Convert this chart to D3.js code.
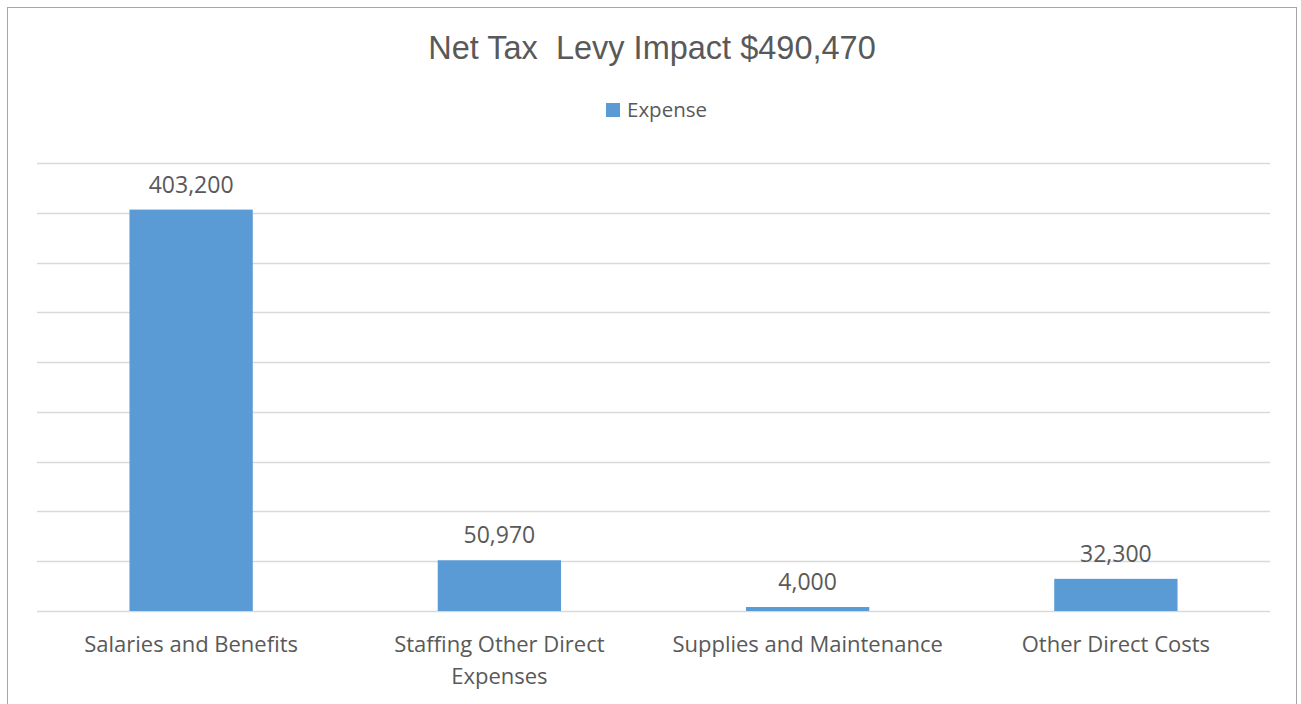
<!DOCTYPE html>
<html>
<head>
<meta charset="utf-8">
<script src="https://cdn.jsdelivr.net/npm/d3@7"></script>
<style>
  body { margin: 0; background: #fff; }
  text { font-family: "Open Sans", "Noto Sans", sans-serif; fill: #595959; }
</style>
</head>
<body>
<svg id="chart" width="1301" height="704"></svg>
<script>
// data
const categories = [
  ["Salaries and Benefits"],
  ["Staffing Other Direct", "Expenses"],
  ["Supplies and Maintenance"],
  ["Other Direct Costs"]
];
const expense = [403200, 50970, 4000, 32300];
const yTicks = [0, 50000, 100000, 150000, 200000, 250000, 300000, 350000, 400000, 450000];

const svg = d3.select("#chart");

// outer frame
svg.append("rect")
  .attr("x", 7.5).attr("y", 7.5)
  .attr("width", 1289).attr("height", 720)
  .attr("fill", "#fff")
  .attr("stroke", "#a6a6a6");

const margin = { left: 37, right: 31, top: 163, bottom: 93 };
const width = 1301 - margin.left - margin.right;
const height = 704 - margin.top - margin.bottom;

const x = d3.scaleBand()
  .domain(d3.range(categories.length))
  .range([margin.left, margin.left + width])
  .paddingInner(0.6)
  .paddingOuter(0.3);

const y = d3.scaleLinear()
  .domain([0, 450000])
  .range([margin.top + height, margin.top]);

// gridlines
svg.append("g")
  .selectAll("line")
  .data(yTicks)
  .enter()
  .append("line")
  .attr("x1", margin.left)
  .attr("x2", margin.left + width)
  .attr("y1", (d) => Math.round(y(d)) + 0.5)
  .attr("y2", (d) => Math.round(y(d)) + 0.5)
  .attr("stroke", "#d9d9d9")
  .attr("stroke-width", 1.5);

// bars
svg.append("g")
  .selectAll("rect")
  .data(expense)
  .enter()
  .append("rect")
  .attr("x", (d, i) => x(i))
  .attr("y", (d) => y(d))
  .attr("width", x.bandwidth())
  .attr("height", (d) => y(0) - y(d))
  .attr("fill", "#5b9bd5");

// value labels
svg.append("g")
  .selectAll("text")
  .data(expense)
  .enter()
  .append("text")
  .attr("x", (d, i) => x(i) + x.bandwidth() / 2)
  .attr("y", (d) => y(d) - 17)
  .attr("text-anchor", "middle")
  .style("font-size", "23px")
  .text((d) => d3.format(",")(d));

// category labels
const catG = svg.append("g")
  .selectAll("text")
  .data(categories)
  .enter()
  .append("text")
  .attr("x", (d, i) => x(i) + x.bandwidth() / 2)
  .attr("y", y(0) + 41)
  .attr("text-anchor", "middle")
  .style("font-size", "22px");

catG.selectAll("tspan")
  .data((d) => d)
  .enter()
  .append("tspan")
  .attr("x", function () { return d3.select(this.parentNode).attr("x"); })
  .attr("dy", (d, i) => (i === 0 ? 0 : 32))
  .text((d) => d);

// title
svg.append("text")
  .attr("x", 652)
  .attr("y", 59)
  .attr("text-anchor", "middle")
  .style("font-family", "'Liberation Sans', Arial, sans-serif")
  .style("font-size", "32.5px")
  .style("white-space", "pre")
  .text("Net Tax  Levy Impact $490,470");

// legend
const legend = svg.append("g").attr("transform", "translate(606,103)");
legend.append("rect")
  .attr("width", 14).attr("height", 14)
  .attr("fill", "#5b9bd5");
legend.append("text")
  .attr("x", 21)
  .attr("y", 14)
  .style("font-size", "20.5px")
  .text("Expense");
</script>
</body>
</html>
